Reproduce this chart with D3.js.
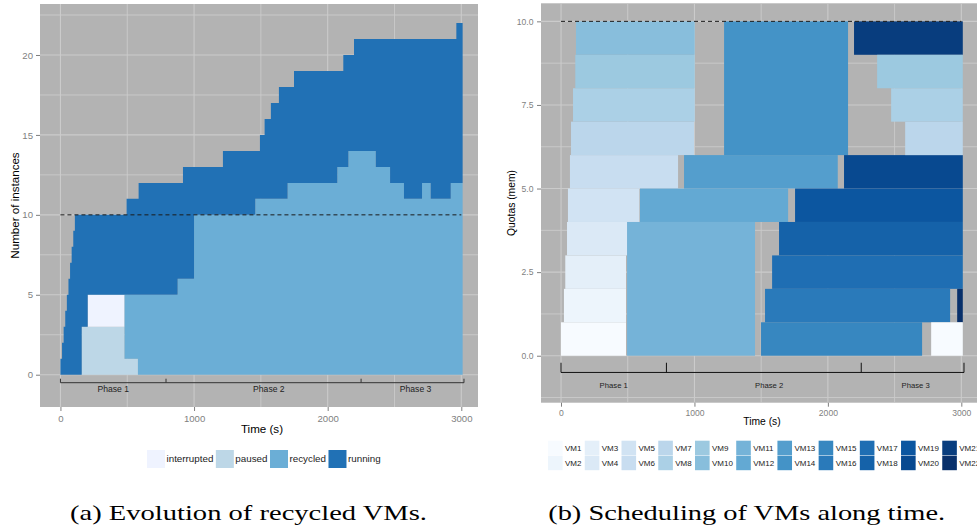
<!DOCTYPE html>
<html>
<head>
<meta charset="utf-8">
<script src="https://cdn.jsdelivr.net/npm/d3@7"></script>
<style>
  body { margin: 0; background: #fff; }
  svg { display: block; font-family: "Liberation Sans", Arial, sans-serif; }
</style>
</head>
<body>
<svg id="fig" width="977" height="532"></svg>
<script>
// ---- (a) instance states over time (change points, counts)
const stepTimes        = [0, 12, 24, 36, 48, 60, 72, 84, 96, 108, 159, 204, 480, 495, 580, 585, 877, 917, 1000, 1216, 1458, 1493, 1528, 1575, 1635, 1700, 1748, 2072, 2117, 2155, 2197, 2360, 2467, 2571, 2706, 2771, 2921, 2963, 3010];
const pausedCount      = [0, 0, 0, 0, 0, 0, 0, 0, 0, 0, 3, 3, 1, 1, 0, 0, 0, 0, 0, 0, 0, 0, 0, 0, 0, 0, 0, 0, 0, 0, 0, 0, 0, 0, 0, 0, 0, 0, 0];
const interruptedCount = [0, 0, 0, 0, 0, 0, 0, 0, 0, 0, 0, 2, 0, 0, 0, 0, 0, 0, 0, 0, 0, 0, 0, 0, 0, 0, 0, 0, 0, 0, 0, 0, 0, 0, 0, 0, 0, 0, 0];
const recycledCount    = [0, 0, 0, 0, 0, 0, 0, 0, 0, 0, 0, 0, 4, 4, 5, 5, 6, 6, 10, 10, 11, 11, 11, 11, 11, 12, 12, 13, 13, 14, 14, 13, 12, 11, 12, 11, 12, 12, 12];
const runningCount     = [1, 2, 3, 4, 5, 6, 7, 8, 9, 10, 7, 5, 5, 6, 6, 7, 6, 7, 3, 4, 3, 4, 5, 6, 7, 6, 7, 6, 7, 6, 7, 8, 9, 10, 9, 10, 9, 10, 10];

const stackOrder   = ["paused", "interrupted", "recycled", "running"];
const legendStates = ["interrupted", "paused", "recycled", "running"];
const stateColor = {interrupted: "#EFF3FF", paused: "#BDD7E7", recycled: "#6BAED6", running: "#2171B5"};

// ---- (b) VM scheduling: one rectangle per VM run
const vmNames  = ["VM1","VM2","VM3","VM4","VM5","VM6","VM7","VM8","VM9","VM10","VM11","VM12","VM13","VM14","VM15","VM16","VM17","VM18","VM19","VM20","VM21","VM22"];
const jobVm    = [1, 2, 3, 4, 5, 6, 7, 8, 9, 10, 11, 12, 13, 14, 15, 16, 17, 18, 19, 20, 21, 22, 1, 7, 8, 9];
const jobStart = [0, 22, 32, 45, 52, 67, 75, 90, 107, 112, 495, 592, 922, 1222, 1499, 1529, 1582, 1634, 1754, 2121, 2196, 2969, 2774, 2579, 2474, 2369];
const jobEnd   = [487, 487, 487, 495, 587, 877, 997, 1002, 1002, 1002, 1454, 1702, 2074, 2151, 2706, 2916, 3011, 3011, 3011, 3011, 3011, 3011, 3011, 3011, 3011, 3011];
const jobLow   = [0, 1, 2, 3, 4, 5, 6, 7, 8, 9, 0, 4, 5, 6, 0, 1, 2, 3, 4, 5, 9, 1, 0, 6, 7, 8];
const jobHigh  = [1, 2, 3, 4, 5, 6, 7, 8, 9, 10, 4, 5, 6, 10, 1, 2, 3, 4, 5, 6, 10, 2, 1, 7, 8, 9];

const blues9 = ["#F7FBFF","#DEEBF7","#C6DBEF","#9ECAE1","#6BAED6","#4292C6","#2171B5","#08519C","#08306B"];

// ---- shared annotations
const quotaLimit   = 10;
const phaseNames   = ["Phase 1", "Phase 2", "Phase 3"];
const phaseBounds  = [0, 790, 2250, 3020];
const phaseLabelAt = [395, 1560, 2658];
const xTicks = [0, 1000, 2000, 3000];
const xMinor = [500, 1500, 2500];

const svg = d3.select("#fig");

function drawPanel(p) {
    const g = svg.append("g");
    const x = d3.scaleLinear().domain(p.xDomain).range([p.left, p.right]);
    const y = d3.scaleLinear().domain(p.yDomain).range([p.bottom, p.top]);

    g.append("rect")
        .attr("x", p.left).attr("y", p.top)
        .attr("width", p.right - p.left).attr("height", p.bottom - p.top)
        .attr("fill", "#B3B3B3");

    // grid
    const grid = g.append("g").attr("stroke", "#CBCBCB");
    p.yMinor.concat(p.yTicks).forEach(v => {
        grid.append("line").attr("x1", p.left).attr("x2", p.right)
            .attr("y1", y(v)).attr("y2", y(v))
            .attr("stroke-width", p.yTicks.includes(v) ? 1.1 : 0.9);
    });
    xMinor.concat(xTicks).forEach(v => {
        grid.append("line").attr("y1", p.top).attr("y2", p.bottom)
            .attr("x1", x(v)).attr("x2", x(v))
            .attr("stroke-width", xTicks.includes(v) ? 1.1 : 0.9);
    });

    p.drawMarks(g, x, y);

    // quota line
    g.append("line")
        .attr("x1", x(0)).attr("x2", x(3000))
        .attr("y1", y(quotaLimit)).attr("y2", y(quotaLimit))
        .attr("stroke", "#1a1a1a").attr("stroke-width", 1)
        .attr("stroke-dasharray", "4,3");

    // phase bracket
    const ph = g.append("g").attr("stroke", p.phaseStroke).attr("stroke-width", 1);
    ph.append("line")
        .attr("x1", x(phaseBounds[0])).attr("x2", x(phaseBounds[phaseBounds.length - 1]))
        .attr("y1", y(-0.5)).attr("y2", y(-0.5));
    phaseBounds.forEach(b => {
        ph.append("line").attr("x1", x(b)).attr("x2", x(b))
            .attr("y1", y(-0.5)).attr("y2", y(p.phaseTickTop));
    });
    phaseNames.forEach((n, i) => {
        g.append("text")
            .attr("x", x(phaseLabelAt[i])).attr("y", y(-0.87))
            .attr("text-anchor", "middle").attr("dy", "0.35em")
            .attr("font-size", p.phaseFont).attr("fill", "#222")
            .text(n);
    });

    // axes
    const yAxis = g.append("g")
        .attr("transform", `translate(${p.left},0)`)
        .call(d3.axisLeft(y).tickValues(p.yTicks).tickFormat(p.yFormat).tickSize(4).tickPadding(p.yPad));
    const xAxis = g.append("g")
        .attr("transform", `translate(0,${p.bottom})`)
        .call(d3.axisBottom(x).tickValues(xTicks).tickFormat(d3.format("d")).tickSize(4).tickPadding(p.xPad));
    [yAxis, xAxis].forEach(a => {
        a.select(".domain").remove();
        a.selectAll("line").attr("stroke", "#7F7F7F");
        a.selectAll("text").attr("fill", "#7F7F7F").attr("font-size", p.tickFont)
            .attr("font-family", "Liberation Sans, Arial, sans-serif");
    });

    g.append("text")
        .attr("x", p.xTitleX).attr("y", p.xTitleY)
        .attr("text-anchor", "middle").attr("font-size", p.titleFont)
        .text("Time (s)");
    g.append("text")
        .attr("transform", `translate(${p.yTitleX},${(p.top + p.bottom) / 2}) rotate(-90)`)
        .attr("text-anchor", "middle").attr("dy", "0.35em").attr("font-size", p.titleFont)
        .text(p.yTitle);
}

// (a)
drawPanel({
    left: 40, right: 478, top: 4, bottom: 407,
    xDomain: [-153, 3125], yDomain: [-2.02, 23.19],
    yTicks: [0, 5, 10, 15, 20], yMinor: [2.5, 7.5, 12.5, 17.5, 22.5],
    yFormat: d3.format("d"), yPad: 3, xPad: 4,
    tickFont: "9.6px", titleFont: "11.6px", phaseFont: "8.6px",
    phaseStroke: "#333", phaseTickTop: -0.25,
    xTitleX: 262, xTitleY: 432.5, yTitleX: 15, yTitle: "Number of instances",
    drawMarks: (g, x, y) => {
        const rows = stepTimes.map((t, i) => ({
            t: t, paused: pausedCount[i], interrupted: interruptedCount[i],
            recycled: recycledCount[i], running: runningCount[i]
        }));
        const series = d3.stack().keys(stackOrder)(rows);
        const area = d3.area()
            .x(d => x(d.data.t))
            .y0(d => y(d[0]))
            .y1(d => y(d[1]))
            .curve(d3.curveStepAfter);
        g.selectAll(".layer")
            .data(series)
            .enter().append("path")
            .attr("class", "layer")
            .attr("d", area)
            .attr("fill", d => stateColor[d.key]);
    }
});

// (b)
const vmColor = d3.scaleLinear()
    .domain(blues9.map((c, i) => 1 + i * (vmNames.length - 1) / (blues9.length - 1)))
    .range(blues9)
    .interpolate(d3.interpolateRgb);

drawPanel({
    left: 541, right: 978, top: 3.3, bottom: 402.7,
    xDomain: [-150, 3125], yDomain: [-1.405, 10.54],
    yTicks: [0, 2.5, 5, 7.5, 10], yMinor: [-1.25, 1.25, 3.75, 6.25, 8.75],
    yFormat: d3.format(".1f"), yPad: 3.5, xPad: 3,
    tickFont: "8.6px", titleFont: "10.3px", phaseFont: "7.7px",
    phaseStroke: "#111", phaseTickTop: -0.21,
    xTitleX: 762, xTitleY: 425, yTitleX: 511.5, yTitle: "Quotas (mem)",
    drawMarks: (g, x, y) => {
        g.selectAll(".job")
            .data(jobVm.map((vm, i) => ({vm, s: jobStart[i], e: jobEnd[i], lo: jobLow[i], hi: jobHigh[i]})))
            .enter().append("rect")
            .attr("class", "job")
            .attr("x", d => x(d.s))
            .attr("width", d => x(d.e) - x(d.s))
            .attr("y", d => y(d.hi))
            .attr("height", d => y(d.lo) - y(d.hi))
            .attr("fill", d => vmColor(d.vm));
    }
});

// legend (a)
let lx = 147;
legendStates.forEach(s => {
    svg.append("rect").attr("x", lx).attr("y", 450).attr("width", 18).attr("height", 18)
        .attr("fill", stateColor[s]);
    const t = svg.append("text").attr("x", lx + 19.5).attr("y", 459).attr("dy", "0.35em")
        .attr("font-size", "9.8px").attr("fill", "#222").text(s);
    lx += 19.5 + t.node().getComputedTextLength() + 2.5;
});

// legend (b): two rows, filled by column (last column runs past the page edge, as in the original)
let cx = 548;
for (let c = 0; c < vmNames.length / 2; c++) {
    let w = 0;
    [0, 1].forEach(r => {
        const i = c * 2 + r;
        svg.append("rect").attr("x", cx).attr("y", 440.7 + r * 15).attr("width", 14.6).attr("height", 14.5)
            .attr("fill", vmColor(i + 1));
        const t = svg.append("text").attr("x", cx + 17).attr("y", 448 + r * 15).attr("dy", "0.35em")
            .attr("font-size", "8px").attr("fill", "#222").text(vmNames[i]);
        w = Math.max(w, t.node().getComputedTextLength());
    });
    cx += 17 + w + 3.3;
}

// captions
svg.append("text").attr("x", 248.5).attr("y", 519.5).attr("text-anchor", "middle")
    .attr("font-family", "Liberation Serif, serif").attr("font-size", "21px")
    .attr("textLength", 357).attr("lengthAdjust", "spacingAndGlyphs")
    .text("(a) Evolution of recycled VMs.");
svg.append("text").attr("x", 746.7).attr("y", 519.5).attr("text-anchor", "middle")
    .attr("font-family", "Liberation Serif, serif").attr("font-size", "21px")
    .attr("textLength", 397).attr("lengthAdjust", "spacingAndGlyphs")
    .text("(b) Scheduling of VMs along time.");
</script>
</body>
</html>
